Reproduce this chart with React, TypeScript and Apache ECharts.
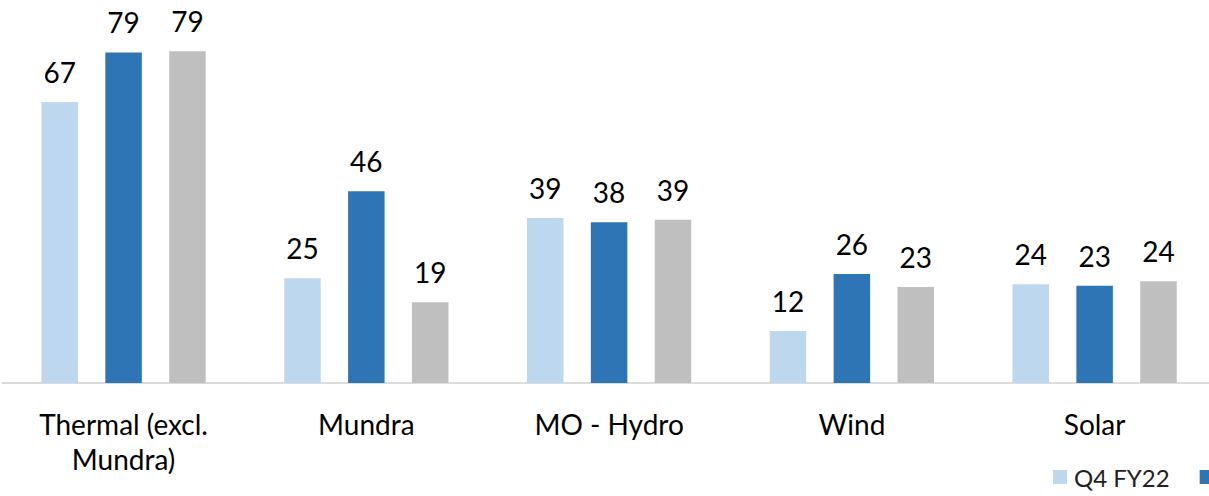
import React, { useEffect, useRef } from "react";
import * as echarts from "echarts";

const categories = ["Thermal (excl.\nMundra)", "Mundra", "MO - Hydro", "Wind", "Solar"];
const seriesNames = ["Q4 FY22", "Q3 FY23", "Q4 FY23"];
const seriesA = [67.1, 25.0, 39.4, 12.4, 23.6];
const seriesB = [78.9, 45.8, 38.4, 26.0, 23.2];
const seriesC = [79.2, 19.3, 39.0, 22.9, 24.3];
const colors = ["#BDD7EE", "#2E75B6", "#BFBFBF"];

export default function App() {
  const ref = useRef<HTMLDivElement>(null);
  useEffect(() => {
    if (!ref.current) return;
    const chart = echarts.init(ref.current, null, { renderer: "svg" });
    const font = "Lato, 'Open Sans', sans-serif";
    const mk = (name: string, data: number[], color: string) => ({
      name,
      type: "bar",
      data,
      barWidth: 36.5,
      barGap: "75%",
      itemStyle: { color },
      label: {
        show: true,
        position: "top",
        distance: 16,
        fontFamily: font,
        fontSize: 28,
        color: "#000",
        formatter: (p: any) => String(Math.round(p.value)),
      },
    });
    chart.setOption({
      animation: false,
      backgroundColor: "#fff",
      grid: { left: 2.2, right: 0, top: 6, bottom: 113 },
      legend: {
        left: 1053,
        top: 465,
        width: 500,
        itemWidth: 14,
        itemHeight: 14,
        itemGap: 30,
        icon: "rect",
        padding: 0,
        textStyle: { fontFamily: font, fontSize: 24, color: "#222", padding: [0, 0, 0, 2] },
        data: seriesNames,
      },
      xAxis: {
        type: "category",
        data: categories,
        axisLine: { show: true, lineStyle: { color: "#D0D0D0", width: 1.5 } },
        axisTick: { show: false },
        axisLabel: {
          fontFamily: font,
          fontSize: 28,
          lineHeight: 35,
          color: "#000",
          margin: 23,
          interval: 0,
        },
      },
      yAxis: {
        type: "value",
        min: 0,
        max: 90,
        show: false,
        splitLine: { show: false },
      },
      series: [
        mk(seriesNames[0], seriesA, colors[0]),
        mk(seriesNames[1], seriesB, colors[1]),
        mk(seriesNames[2], seriesC, colors[2]),
      ],
    });
    return () => chart.dispose();
  }, []);
  return (
    <div style={{ position: "absolute", left: 0, top: 0, width: 1209, height: 496, overflow: "hidden" }}>
      <div ref={ref} style={{ width: 1216, height: 496 }} />
    </div>
  );
}
